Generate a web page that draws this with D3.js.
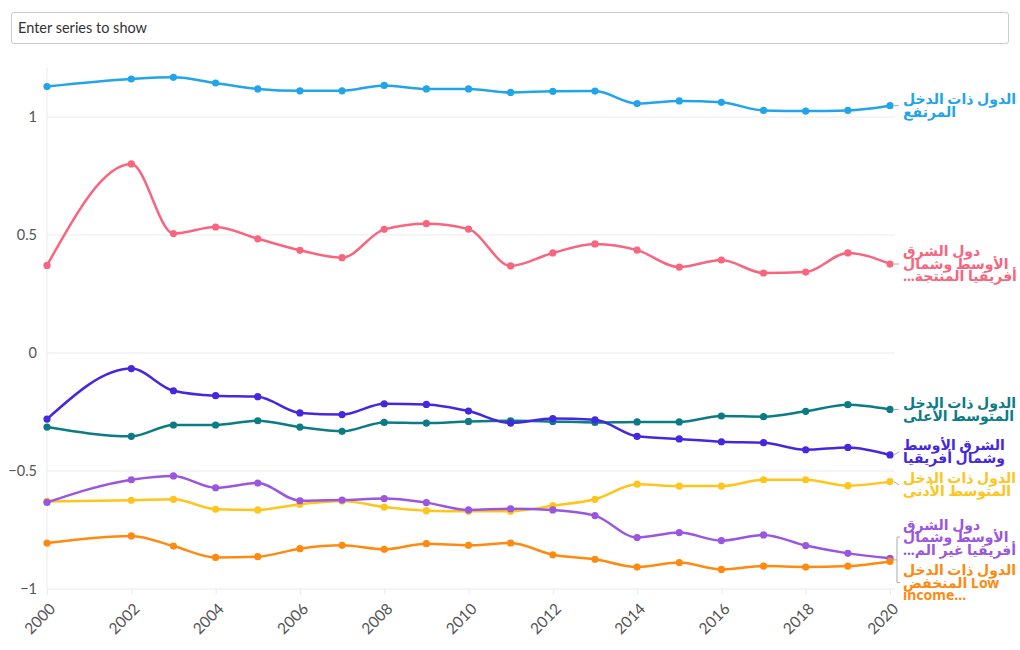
<!DOCTYPE html>
<html>
<head>
<meta charset="utf-8">
<script src="https://cdn.jsdelivr.net/npm/d3@7"></script>
<style>
  html, body { margin: 0; padding: 0; background: #fff; }
  body { width: 1020px; height: 650px; position: relative; overflow: hidden;
         font-family: "Source Sans Pro", Lato, "Noto Sans", "DejaVu Sans", sans-serif; }
  #search { position: absolute; left: 11px; top: 12px; width: 996px; height: 30px;
            border: 1px solid #cccccc; border-radius: 3px; box-sizing: content-box; }
  #search span { position: absolute; left: 6px; top: 6px; font-size: 14.5px; color: #333; }
  svg { position: absolute; left: 0; top: 0; }
</style>
</head>
<body>
<div id="search"><span>Enter series to show</span></div>
<svg id="chart" width="1020" height="650"></svg>
<script>
// ---- data ----
const years = [2000, 2002, 2003, 2004, 2005, 2006, 2007, 2008, 2009, 2010,
               2011, 2012, 2013, 2014, 2015, 2016, 2017, 2018, 2019, 2020];
const xTicks = [2000, 2002, 2004, 2006, 2008, 2010, 2012, 2014, 2016, 2018, 2020];
const yTicks = [-1, -0.5, 0, 0.5, 1];

const highIncome = [1.129, 1.161, 1.168, 1.144, 1.119, 1.111, 1.111, 1.134, 1.119, 1.119,
                    1.104, 1.109, 1.110, 1.057, 1.068, 1.062, 1.028, 1.025, 1.028, 1.048];
const menaProducers = [0.371, 0.801, 0.506, 0.534, 0.484, 0.435, 0.404, 0.524, 0.548, 0.525,
                       0.369, 0.424, 0.462, 0.436, 0.364, 0.394, 0.339, 0.343, 0.424, 0.377];
const upperMiddle = [-0.314, -0.353, -0.305, -0.305, -0.287, -0.314, -0.332, -0.294, -0.297, -0.290,
                     -0.287, -0.290, -0.294, -0.292, -0.292, -0.267, -0.270, -0.247, -0.219, -0.239];
const mena = [-0.280, -0.066, -0.160, -0.181, -0.185, -0.254, -0.261, -0.215, -0.218, -0.246,
              -0.297, -0.278, -0.283, -0.353, -0.364, -0.376, -0.380, -0.410, -0.400, -0.432];
const lowerMiddle = [-0.629, -0.624, -0.620, -0.662, -0.665, -0.641, -0.627, -0.653, -0.668, -0.671,
                     -0.671, -0.647, -0.620, -0.556, -0.564, -0.564, -0.537, -0.537, -0.562, -0.545];
const menaNonProducers = [-0.633, -0.537, -0.521, -0.571, -0.551, -0.626, -0.623, -0.617, -0.634, -0.665,
                          -0.660, -0.665, -0.689, -0.782, -0.761, -0.795, -0.771, -0.816, -0.849, -0.870];
const lowIncome = [-0.805, -0.775, -0.818, -0.866, -0.863, -0.829, -0.815, -0.832, -0.808, -0.815,
                   -0.805, -0.855, -0.874, -0.907, -0.888, -0.917, -0.903, -0.907, -0.903, -0.883];

const seriesValues = [highIncome, menaProducers, upperMiddle, mena, lowerMiddle, menaNonProducers, lowIncome];
const seriesLabels = [
  ["الدول ذات الدخل", "المرتفع"],
  ["دول الشرق", "الأوسط وشمال", "أفريقيا المنتجة...\u200F"],
  ["الدول ذات الدخل", "المتوسط الأعلى"],
  ["الشرق الأوسط", "وشمال أفريقيا"],
  ["الدول ذات الدخل", "المتوسط الأدنى"],
  ["دول الشرق", "الأوسط وشمال", "أفريقيا غير الم...\u200F"],
  ["الدول ذات الدخل", "المنخفض Low", "income..."]
];
const seriesColors = ["#22a4e9", "#f7657f", "#0b7b86", "#4428e0", "#fec51c", "#9a56e0", "#fe8a10"];

// ---- layout ----
const svg = d3.select("#chart");
const x = d3.scaleLinear().domain([2000, 2020]).range([47, 890]);
const y = d3.scaleLinear().domain([-1, 1]).range([589, 117]);
const yTop = y(1.21);

const g = svg.append("g");

// gridlines
g.selectAll("line.hgrid").data(yTicks).join("line")
  .attr("x1", 47).attr("x2", 895)
  .attr("y1", d => y(d)).attr("y2", d => y(d))
  .attr("stroke", "#ebebeb").attr("stroke-width", 1);

g.append("line").attr("x1", 47).attr("x2", 47).attr("y1", yTop).attr("y2", y(-1))
  .attr("stroke", "#ebebeb");

// y axis labels via d3 axis
const yAxis = g.append("g").attr("transform", "translate(47,0)")
  .call(d3.axisLeft(y).tickValues(yTicks).tickSize(0).tickPadding(10)
        .tickFormat(d => d3.format("")(d)));
yAxis.select(".domain").remove();
yAxis.selectAll("text").attr("fill", "#555").style("font-size", "14.5px")
  .style("font-family", "'Source Sans Pro', Lato, sans-serif");

// x axis
const xAxis = g.append("g").attr("transform", `translate(0,${y(-1)})`)
  .call(d3.axisBottom(x).tickValues(xTicks).tickSize(6).tickFormat(d3.format("d")));
xAxis.select(".domain").remove();
xAxis.selectAll(".tick line").attr("stroke", "#ebebeb");
xAxis.selectAll("text")
  .attr("fill", "#555").style("font-size", "15.5px")
  .style("font-family", "'Source Sans Pro', Lato, sans-serif")
  .attr("text-anchor", "end")
  .attr("dy", "0.35em")
  .attr("transform", "translate(5,17) rotate(-45)")
  .attr("y", 0).attr("x", 0);

// lines
const line = d3.line().x((d, i) => x(years[i])).y(d => y(d)).curve(d3.curveMonotoneX);
const seriesG = g.selectAll("g.series").data(seriesValues).join("g").attr("class", "series");
seriesG.append("path")
  .attr("d", d => line(d))
  .attr("fill", "none")
  .attr("stroke", (d, i) => seriesColors[i])
  .attr("stroke-width", 2.5);
seriesG.each(function(vals, si) {
  d3.select(this).selectAll("circle").data(vals).join("circle")
    .attr("cx", (d, i) => x(years[i])).attr("cy", d => y(d))
    .attr("r", 3.6).attr("fill", seriesColors[si]);
});

// ---- labels with collision avoidance ----
const lineH = 12.5, gap = 8;
let items = seriesValues.map((v, i) => ({
  i, target: y(v[v.length - 1]), h: seriesLabels[i].length * lineH
})).sort((a, b) => a.target - b.target);
let groups = items.map(it => ({ members: [it] }));
function layoutGroup(gr) {
  const total = d3.sum(gr.members, m => m.h) + gap * (gr.members.length - 1);
  const meanT = d3.mean(gr.members, m => m.target);
  let pos = 0, centers = [];
  gr.members.forEach(m => { centers.push(pos + m.h / 2); pos += m.h + gap; });
  const off = meanT - d3.mean(centers);
  gr.top = off; gr.bottom = off + total;
  gr.members.forEach((m, k) => m.center = off + centers[k]);
}
groups.forEach(layoutGroup);
let changed = true;
while (changed) {
  changed = false;
  for (let k = 0; k < groups.length - 1; k++) {
    if (groups[k].bottom + gap > groups[k + 1].top) {
      groups[k].members = groups[k].members.concat(groups[k + 1].members);
      groups.splice(k + 1, 1);
      layoutGroup(groups[k]);
      changed = true;
      break;
    }
  }
}

const labelX = 903;
const labG = g.append("g");
items.forEach(it => {
  const lines = seriesLabels[it.i];
  const t = labG.append("text")
    .attr("x", labelX)
    .attr("fill", seriesColors[it.i])
    .style("font-size", "14px").style("font-weight", "bold")
    .style("font-family", "'Noto Sans', 'DejaVu Sans', sans-serif");
  const firstY = it.center - (lines.length - 1) * lineH / 2;
  lines.forEach((ln, k) => {
    t.append("tspan").attr("x", labelX).attr("y", firstY + k * lineH)
      .attr("dy", "0.35em").text(ln);
  });
});

// connectors
groups.forEach(gr => {
  const disp = d3.max(gr.members, m => Math.abs(m.center - m.target));
  if (gr.members.length > 1 && disp > 10) {
    const c0 = d3.min(gr.members, m => m.center), c1 = d3.max(gr.members, m => m.center);
    const mid = d3.mean(gr.members, m => m.target);
    labG.append("path")
      .attr("d", `M900,${c0}H897V${c1}H900M893,${mid}H897`)
      .attr("fill", "none").attr("stroke", "#aaa").attr("stroke-width", 1);
  } else {
    gr.members.forEach(m => {
      labG.append("path")
        .attr("d", `M894,${m.target}L899,${m.center}`)
        .attr("fill", "none").attr("stroke", "#aaa").attr("stroke-width", 1);
    });
  }
});
</script>
</body>
</html>
